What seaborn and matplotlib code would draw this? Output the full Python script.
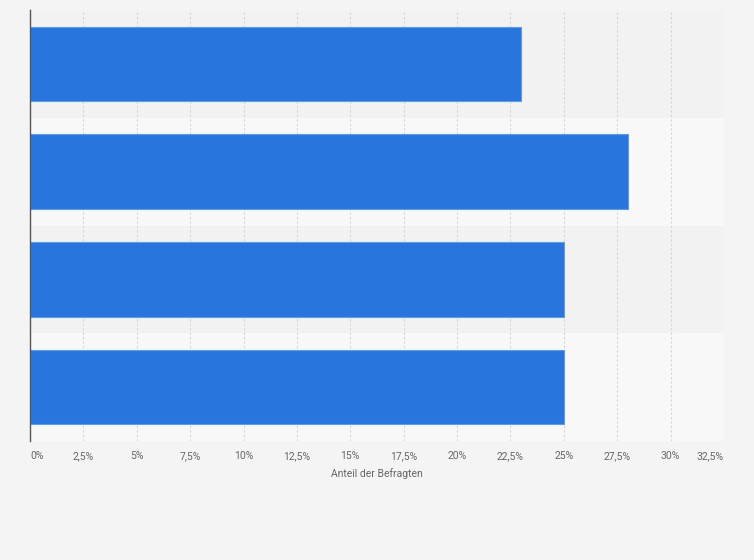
"""Horizontal bar chart: Anteil der Befragten."""
import matplotlib
matplotlib.use("Agg")
import matplotlib.pyplot as plt
import pandas as pd
import seaborn as sns

# categories have no visible labels in the reference
categories = ["Kategorie 1", "Kategorie 2", "Kategorie 3", "Kategorie 4"]
values = [23, 28, 25, 25]
x_ticks = [0, 2.5, 5, 7.5, 10, 12.5, 15, 17.5, 20, 22.5, 25, 27.5, 30, 32.5]
x_tick_labels = ["0%", "2,5%", "5%", "7,5%", "10%", "12,5%", "15%", "17,5%",
                 "20%", "22,5%", "25%", "27,5%", "30%", "32,5%"]
x_label = "Anteil der Befragten"

BAR_COLOR = "#2876dd"
BG = "#f4f4f4"

sns.set_style("white")
plt.rcParams["font.family"] = ["Liberation Sans Narrow", "Roboto", "DejaVu Sans"]

df = pd.DataFrame({"category": categories, "value": values})

fig = plt.figure(figsize=(7.54, 5.6), dpi=100, facecolor=BG)
ax = fig.add_axes([30 / 754, 1 - 441 / 560, 694 / 754, 431 / 560])
ax.set_facecolor(BG)

# alternating row bands
for i in range(len(categories)):
    ax.axhspan(i - 0.5, i + 0.5, color="#f2f2f2" if i % 2 == 0 else "#f8f8f8",
               zorder=0, linewidth=0)

sns.barplot(data=df, x="value", y="category", orient="h", color=BAR_COLOR,
            saturation=1, width=0.69, edgecolor="#5c9aea", linewidth=0.8,
            ax=ax, zorder=3)

ax.set_xlim(0, 32.5)
ax.set_ylim(len(categories) - 0.5, -0.5)
ax.set_xticks(x_ticks)
ax.set_xticklabels(x_tick_labels, fontsize=7.5, color="#666666")
labels = ax.get_xticklabels()
labels[0].set_horizontalalignment("left")
labels[-1].set_horizontalalignment("right")
ax.set_yticks([])
ax.set_ylabel("")
ax.set_xlabel(x_label, fontsize=7.5, color="#666666", labelpad=5)
ax.tick_params(axis="x", length=0, pad=7)
ax.xaxis.grid(True, color="#d4d4d4", linestyle=(0, (2, 2)), linewidth=0.8, zorder=1)
ax.set_axisbelow(True)

for side in ["top", "right", "bottom"]:
    ax.spines[side].set_visible(False)
ax.spines["left"].set_color("#555555")
ax.spines["left"].set_linewidth(1)
ax.spines["left"].set_zorder(5)

fig.savefig("out.png", dpi=100, facecolor=BG)
